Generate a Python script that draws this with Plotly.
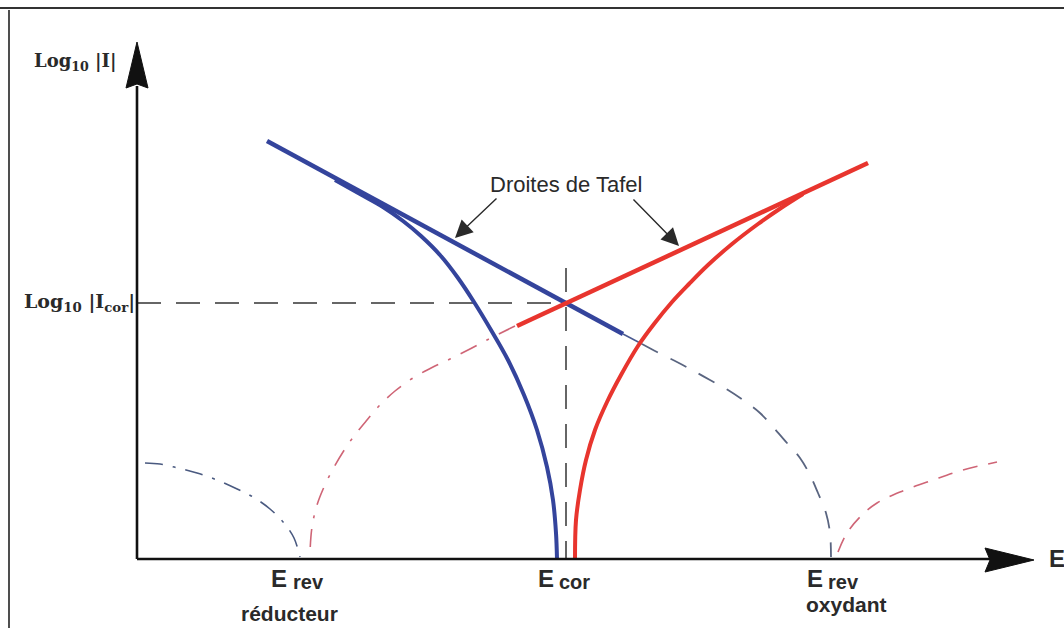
import plotly.graph_objects as go

# ---- data (schematic coordinates: E along x, log|I| along y, y grows downward) ----
blue_tafel_x = [267, 623]
blue_tafel_y = [141, 334]
blue_tafel_tail_x = [623, 642]
blue_tafel_tail_y = [334, 344]
red_tafel_x = [517, 868]
red_tafel_y = [326, 163]

blue_curve_x = [335, 360, 383, 403, 421, 440, 458, 474, 491, 508, 524, 537, 547, 553, 556, 557]
blue_curve_y = [180, 194, 207, 221, 236, 255, 278, 302, 330, 360, 395, 430, 467, 500, 533, 559]

red_curve_x = [803, 781, 758, 732, 708, 689, 672, 654, 638, 621, 607, 595, 586, 580, 576, 575]
red_curve_y = [194, 208, 224, 244, 265, 284, 302, 324, 346, 375, 402, 430, 460, 490, 520, 559]

blue_dash_x = [642, 657, 677, 692, 710, 728, 743, 760, 773, 787, 800, 810, 818, 826, 830, 831]
blue_dash_y = [344, 352, 362, 370, 380, 390, 400, 413, 427, 443, 458, 475, 493, 513, 533, 557]

red_dashdot_x = [515, 487, 468, 450, 433, 413, 395, 380, 367, 354, 343, 333, 324, 317, 312, 310]
red_dashdot_y = [326, 340, 350, 359, 367, 378, 391, 405, 420, 436, 452, 469, 487, 505, 527, 552]

blue_dashdot_x = [145, 160, 178, 197, 217, 235, 253, 270, 284, 294, 300]
blue_dashdot_y = [463, 464, 468, 473, 480, 488, 497, 509, 523, 538, 557]

red_dash_x = [838, 847, 862, 877, 900, 933, 963, 997]
red_dash_y = [552, 533, 515, 503, 492, 480, 470, 462]

e_cor = 566
log_icor = 303
y_axis_x = 137
x_axis_y = 559

# ---- figure ----
fig = go.Figure()

def line(x, y, color, width, dash="solid", shape="linear"):
    fig.add_trace(go.Scatter(x=x, y=y, mode="lines", hoverinfo="skip",
                             line=dict(color=color, width=width, dash=dash, shape=shape)))

BLUE = "#34449c"
RED = "#e8352e"

# frame
line([0, 1064], [8, 8], "#333333", 2.2)
line([9, 9], [10, 628], "#222222", 1.6)

# guides for E_cor / I_cor
line([y_axis_x, e_cor], [log_icor, log_icor], "#666666", 2, "24px,15px")
line([e_cor, e_cor], [268, x_axis_y], "#666666", 2, "24px,15px")

# faint continuations
line(blue_dashdot_x, blue_dashdot_y, "#4a5a80", 1.6, "18px,10px,3px,10px", "spline")
line(red_dashdot_x, red_dashdot_y, "#cf6576", 1.6, "18px,11px,3px,11px", "spline")
line(blue_dash_x, blue_dash_y, "#5a6580", 1.8, "18px,14px", "spline")
line(red_dash_x, red_dash_y, "#cf6576", 1.6, "15px,11px", "spline")
line(blue_tafel_tail_x, blue_tafel_tail_y, "#4a5a90", 1.5)

# curves
line(blue_curve_x, blue_curve_y, BLUE, 4, "solid", "spline")
line(red_curve_x, red_curve_y, RED, 4, "solid", "spline")
line(blue_tafel_x, blue_tafel_y, BLUE, 4.5)
line(red_tafel_x, red_tafel_y, RED, 4.5)

# axes
line([y_axis_x, y_axis_x], [86, x_axis_y], "#111111", 2.6)
line([y_axis_x, 990], [x_axis_y, x_axis_y], "#111111", 2.6)

shapes = [
    dict(type="path", xref="x", yref="y",
         path="M 137 42 L 148 88 L 137 84 L 126 88 Z",
         fillcolor="#111111", line=dict(color="#111111", width=1)),
    dict(type="path", xref="x", yref="y",
         path="M 1034 560 L 985 548 L 990 560 L 985 572 Z",
         fillcolor="#111111", line=dict(color="#111111", width=1)),
]

TXT = "#2a2a2a"
SANS = "Liberation Sans"
SERIF = "DejaVu Serif"
ann = []

def text(x, y, s, size, family=SANS, xanchor="center", color=TXT):
    ann.append(dict(x=x, y=y, xref="x", yref="y", text=s, showarrow=False,
                    xanchor=xanchor, yanchor="middle",
                    font=dict(family=family, size=size, color=color)))

text(75, 62, "<b>Log<sub>10</sub> |I|</b>", 18, SERIF)
text(79, 302, "<b>Log<sub>10</sub> |I<sub>cor</sub>|</b>", 19, SERIF)
text(1047, 558, "<b>E</b>", 24, SANS, "left")
text(566, 184, "Droites de Tafel", 22, SANS)

# bottom labels
text(279, 578, "<b>E</b>", 24)
text(308, 582, "<b>rev</b>", 20)
text(289, 613, "<b>réducteur</b>", 21)
text(546, 578, "<b>E</b>", 24)
text(574, 582, "<b>cor</b>", 20)
text(815, 578, "<b>E</b>", 24)
text(843, 582, "<b>rev</b>", 20)
text(846, 604, "<b>oxydant</b>", 21)

# pointer arrows
for (tx, ty, sx, sy) in [(455, 238, 498, 197), (679, 246, 632, 198)]:
    ann.append(dict(x=tx, y=ty, ax=sx, ay=sy, xref="x", yref="y", axref="x", ayref="y",
                    text="", showarrow=True, arrowhead=2, arrowsize=2.5, arrowwidth=1.4,
                    arrowcolor="#2a2a2a", standoff=0))

fig.update_layout(
    width=1064, height=628,
    margin=dict(l=0, r=0, t=0, b=0),
    paper_bgcolor="white", plot_bgcolor="white",
    showlegend=False, hovermode=False,
    xaxis=dict(range=[0, 1064], visible=False, fixedrange=True),
    yaxis=dict(range=[628, 0], visible=False, fixedrange=True),
    shapes=shapes, annotations=ann,
)

fig.write_html("out.html", config={"displayModeBar": False},
               post_script="document.body.style.margin='0px';document.body.style.overflow='hidden';")
